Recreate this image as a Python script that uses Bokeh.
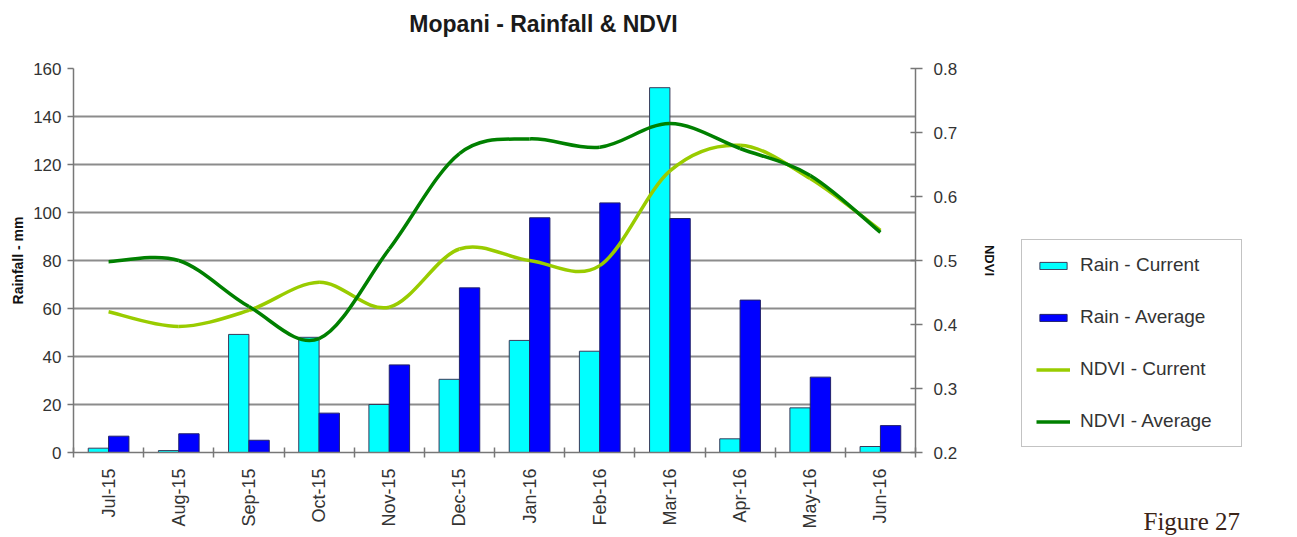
from bokeh.plotting import figure
from bokeh.layouts import row
from bokeh.models import (Range1d, LinearAxis, FixedTicker, Legend, LegendItem,
                          ColumnDataSource, Label)
from bokeh.transform import dodge
from bokeh.embed import file_html
from bokeh.resources import INLINE

# ---- data ----
months = ["Jul-15", "Aug-15", "Sep-15", "Oct-15", "Nov-15", "Dec-15",
          "Jan-16", "Feb-16", "Mar-16", "Apr-16", "May-16", "Jun-16"]
rain_current = [1.8, 0.8, 49.2, 48.0, 20.0, 30.5, 46.7, 42.2, 152.0, 5.7, 18.6, 2.5]
rain_average = [6.8, 7.8, 5.1, 16.4, 36.5, 68.6, 97.8, 104.0, 97.5, 63.5, 31.4, 11.2]
ndvi_current = [0.42, 0.397, 0.422, 0.466, 0.427, 0.518, 0.50, 0.492, 0.64, 0.68, 0.628, 0.547]
ndvi_average = [0.498, 0.50, 0.428, 0.378, 0.518, 0.667, 0.69, 0.677, 0.714, 0.675, 0.633, 0.544]
rain_ticks = [0, 20, 40, 60, 80, 100, 120, 140, 160]
ndvi_ticks = [0.2, 0.3, 0.4, 0.5, 0.6, 0.7, 0.8]

FONT = "Liberation Sans"
TXT = "#333333"
GRID = "#8c8c8c"
AXC = "#777777"
C_CUR, C_AVG = "#00FFFF", "#0000FF"
N_CUR, N_AVG = "#99CC00", "#008000"

n = len(months)
xc = [i + 0.5 for i in range(n)]

p = figure(width=1000, height=537, output_backend="svg", toolbar_location=None,
           x_range=Range1d(0, n), y_range=Range1d(0, 160),
           min_border_left=73, min_border_right=85, min_border_top=68,
           min_border_bottom=85)
p.outline_line_color = None
p.background_fill_color = "white"
p.border_fill_color = "white"

p.extra_y_ranges = {"ndvi": Range1d(0.2, 0.8)}

# x axis: labels at centers, tick marks at boundaries (minor ticks)
xax = p.xaxis[0]
xax.ticker = FixedTicker(ticks=xc, minor_ticks=list(range(n + 1)))
xax.major_label_overrides = {x: m for x, m in zip(xc, months)}
xax.major_label_orientation = 1.5708
xax.major_tick_line_color = None
xax.minor_tick_line_color = AXC
xax.minor_tick_in = 5
xax.minor_tick_out = 5
xax.minor_tick_line_width = 1.5
xax.axis_line_color = AXC
xax.axis_line_width = 1.5
xax.major_label_text_font = FONT
xax.major_label_text_font_size = "18px"
xax.major_label_text_color = TXT
xax.major_label_standoff = 10

yax = p.yaxis[0]
yax.ticker = FixedTicker(ticks=rain_ticks)
yax.axis_label = "Rainfall - mm"
yax.axis_label_text_font = FONT
yax.axis_label_text_font_style = "bold"
yax.axis_label_text_font_size = "14px"
yax.axis_label_text_color = "#111111"
yax.axis_label_standoff = 4
yax.major_label_text_font = FONT
yax.major_label_text_font_size = "17px"
yax.major_label_text_color = TXT
yax.major_label_standoff = 6
yax.major_tick_out = 6
yax.major_tick_in = 0
yax.minor_tick_line_color = None
yax.axis_line_color = AXC
yax.axis_line_width = 1.5
yax.major_tick_line_color = AXC
yax.major_tick_line_width = 1.5

rax = LinearAxis(y_range_name="ndvi", ticker=FixedTicker(ticks=ndvi_ticks),
                 axis_label="NDVI")
rax.axis_label_text_font = FONT
rax.axis_label_text_font_style = "bold"
rax.axis_label_text_font_size = "13px"
rax.axis_label_text_color = "#111111"
rax.axis_label_standoff = 22
rax.major_label_text_font = FONT
rax.major_label_text_font_size = "17px"
rax.major_label_text_color = TXT
rax.major_label_standoff = 11
rax.major_tick_out = 7
rax.major_tick_in = 5
rax.minor_tick_line_color = None
rax.axis_line_color = AXC
rax.axis_line_width = 1.5
rax.major_tick_line_color = AXC
rax.major_tick_line_width = 1.5
p.add_layout(rax, "right")

p.xgrid.grid_line_color = None
p.ygrid.ticker = FixedTicker(ticks=rain_ticks)
p.ygrid.grid_line_color = GRID
p.ygrid.grid_line_width = 2

# title as a label in the top border panel
p.add_layout(Label(x=470, y=45, x_units="screen", y_units="screen",
                   text="Mopani - Rainfall & NDVI", text_align="center",
                   text_baseline="alphabetic", text_font=FONT,
                   text_font_style="bold", text_font_size="23px",
                   text_color="#1a1a1a"), "above")

# ---- bars ----
src = ColumnDataSource(dict(x=xc, cur=rain_current, avg=rain_average))
p.vbar(x=dodge("x", -0.145, range=p.x_range), top="cur", width=0.29,
       source=src, fill_color=C_CUR, line_color="#3a3a5a", line_width=1)
p.vbar(x=dodge("x", 0.145, range=p.x_range), top="avg", width=0.29,
       source=src, fill_color=C_AVG, line_color="#22226a", line_width=1)


# ---- smoothed NDVI curves (Excel-style Catmull-Rom Bezier through the data points) ----
def bezier_segments(xs, ys):
    x0, y0, x1, y1, cx0, cy0, cx1, cy1 = [], [], [], [], [], [], [], []
    m = len(xs)
    for i in range(m - 1):
        xp, yp = (xs[i - 1], ys[i - 1]) if i > 0 else (xs[i], ys[i])
        xn, yn = (xs[i + 2], ys[i + 2]) if i + 2 < m else (xs[i + 1], ys[i + 1])
        x0.append(xs[i]); y0.append(ys[i]); x1.append(xs[i + 1]); y1.append(ys[i + 1])
        cx0.append(xs[i] + (xs[i + 1] - xp) / 6.0)
        cy0.append(ys[i] + (ys[i + 1] - yp) / 6.0)
        cx1.append(xs[i + 1] - (xn - xs[i]) / 6.0)
        cy1.append(ys[i + 1] - (yn - ys[i]) / 6.0)
    return dict(x0=x0, y0=y0, x1=x1, y1=y1, cx0=cx0, cy0=cy0, cx1=cx1, cy1=cy1)


for vals, col in ((ndvi_current, N_CUR), (ndvi_average, N_AVG)):
    p.bezier(source=ColumnDataSource(bezier_segments(xc, vals)),
             x0="x0", y0="y0", x1="x1", y1="y1", cx0="cx0", cy0="cy0",
             cx1="cx1", cy1="cy1", line_color=col, line_width=3.5,
             y_range_name="ndvi")

# ---- side panel: legend and figure caption ----
s = figure(width=297, height=537, output_backend="svg", toolbar_location=None,
           x_range=Range1d(0, 1), y_range=Range1d(0, 1),
           x_axis_location=None, y_axis_location=None,
           min_border_left=0, min_border_right=0,
           min_border_top=0, min_border_bottom=0)
s.frame_align = False
s.outline_line_color = None
s.grid.visible = False
s.background_fill_color = "white"
s.border_fill_color = "white"

# legend sample glyphs (placed outside the visible range; only their legend swatches show)
g1 = s.vbar(x=[5], top=[1], width=0.1, fill_color=C_CUR, line_color="#3a3a5a")
g2 = s.vbar(x=[5], top=[1], width=0.1, fill_color=C_AVG, line_color="#22226a")
g3 = s.line(x=[5, 6], y=[5, 6], line_color=N_CUR, line_width=3.5)
g4 = s.line(x=[5, 6], y=[5, 6], line_color=N_AVG, line_width=3.5)

legend = Legend(items=[LegendItem(label="Rain - Current", renderers=[g1]),
                       LegendItem(label="Rain - Average", renderers=[g2]),
                       LegendItem(label="NDVI - Current", renderers=[g3]),
                       LegendItem(label="NDVI - Average", renderers=[g4])],
                location=(21, 90))
legend.border_line_color = "#888888"
legend.border_line_width = 1.5
legend.background_fill_color = "white"
legend.background_fill_alpha = 1
legend.label_text_font = FONT
legend.label_text_font_size = "19px"
legend.label_text_color = TXT
legend.glyph_width = 34
legend.glyph_height = 9
legend.label_height = 21
legend.label_width = 147
legend.label_standoff = 10
legend.spacing = 30
legend.padding = 14
legend.margin = 0
s.add_layout(legend, "center")

s.add_layout(Label(x=143, y=16, x_units="screen", y_units="screen",
                   text="Figure 27", text_align="left", text_baseline="alphabetic",
                   text_font="Liberation Serif", text_font_size="25px",
                   text_color="#3b2418"))

layout = row(p, s, spacing=0)
open("out.html", "w").write(file_html(layout, INLINE))
